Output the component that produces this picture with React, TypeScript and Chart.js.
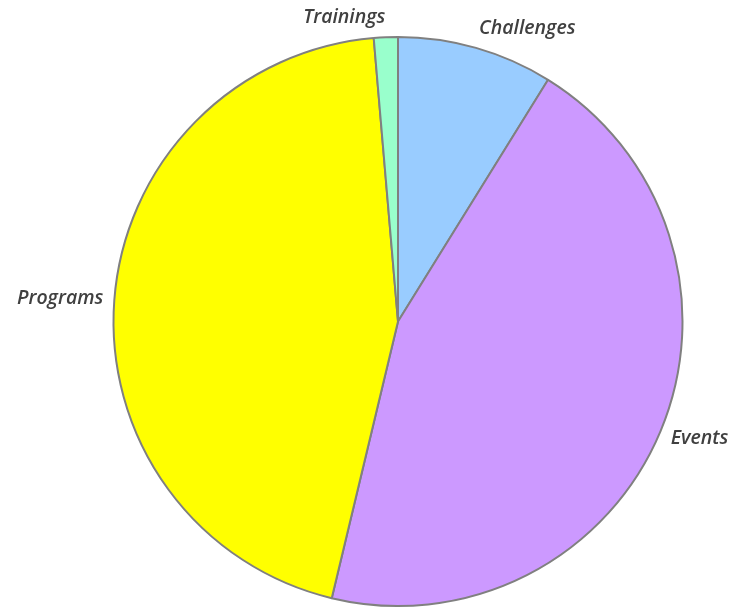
import React, { useEffect, useRef } from "react";
import { Chart, registerables } from "chart.js";

Chart.register(...registerables);

const categories = ["Challenges", "Events", "Programs", "Trainings"];
const values = [13, 66, 66, 2];
const colors = ["#99CCFF", "#CC99FF", "#FFFF00", "#99FFCC"];

const labelPlugin = {
  id: "outerLabels",
  afterDatasetsDraw(chart: any) {
    const ctx = chart.ctx;
    const meta = chart.getDatasetMeta(0);
    ctx.save();
    ctx.font = "italic 600 19.5px 'Open Sans'";
    ctx.fillStyle = "#404040";
    ctx.textBaseline = "middle";
    meta.data.forEach((arc: any, i: number) => {
      const { x, y, startAngle, endAngle, outerRadius } = arc.getProps(
        ["x", "y", "startAngle", "endAngle", "outerRadius"],
        true
      );
      const mid = (startAngle + endAngle) / 2;
      const r = outerRadius + 11;
      const lx = x + Math.cos(mid) * r;
      const ly = y + Math.sin(mid) * r + Math.sin(mid) * 9;
      ctx.textAlign = Math.cos(mid) >= 0 ? "left" : "right";
      ctx.fillText(categories[i], lx, ly);
    });
    ctx.restore();
  },
};

export default function App() {
  const ref = useRef<HTMLCanvasElement>(null);
  useEffect(() => {
    if (!ref.current) return;
    const chart = new Chart(ref.current, {
      type: "pie",
      data: {
        labels: categories,
        datasets: [
          {
            data: values,
            backgroundColor: colors,
            borderColor: "#808080",
            borderWidth: 2,
          },
        ],
      },
      options: {
        animation: false,
        responsive: false,
        maintainAspectRatio: false,
        layout: { padding: { top: 36, bottom: 1, left: 60, right: 9 } },
        plugins: {
          legend: { display: false },
          tooltip: { enabled: false },
        },
      },
      plugins: [labelPlugin],
    });
    return () => chart.destroy();
  }, []);
  return (
    <div style={{ position: "fixed", left: 0, top: 0, width: 745, height: 608 }}>
      <canvas ref={ref} width={745} height={608} style={{ width: 745, height: 608 }} />
    </div>
  );
}
